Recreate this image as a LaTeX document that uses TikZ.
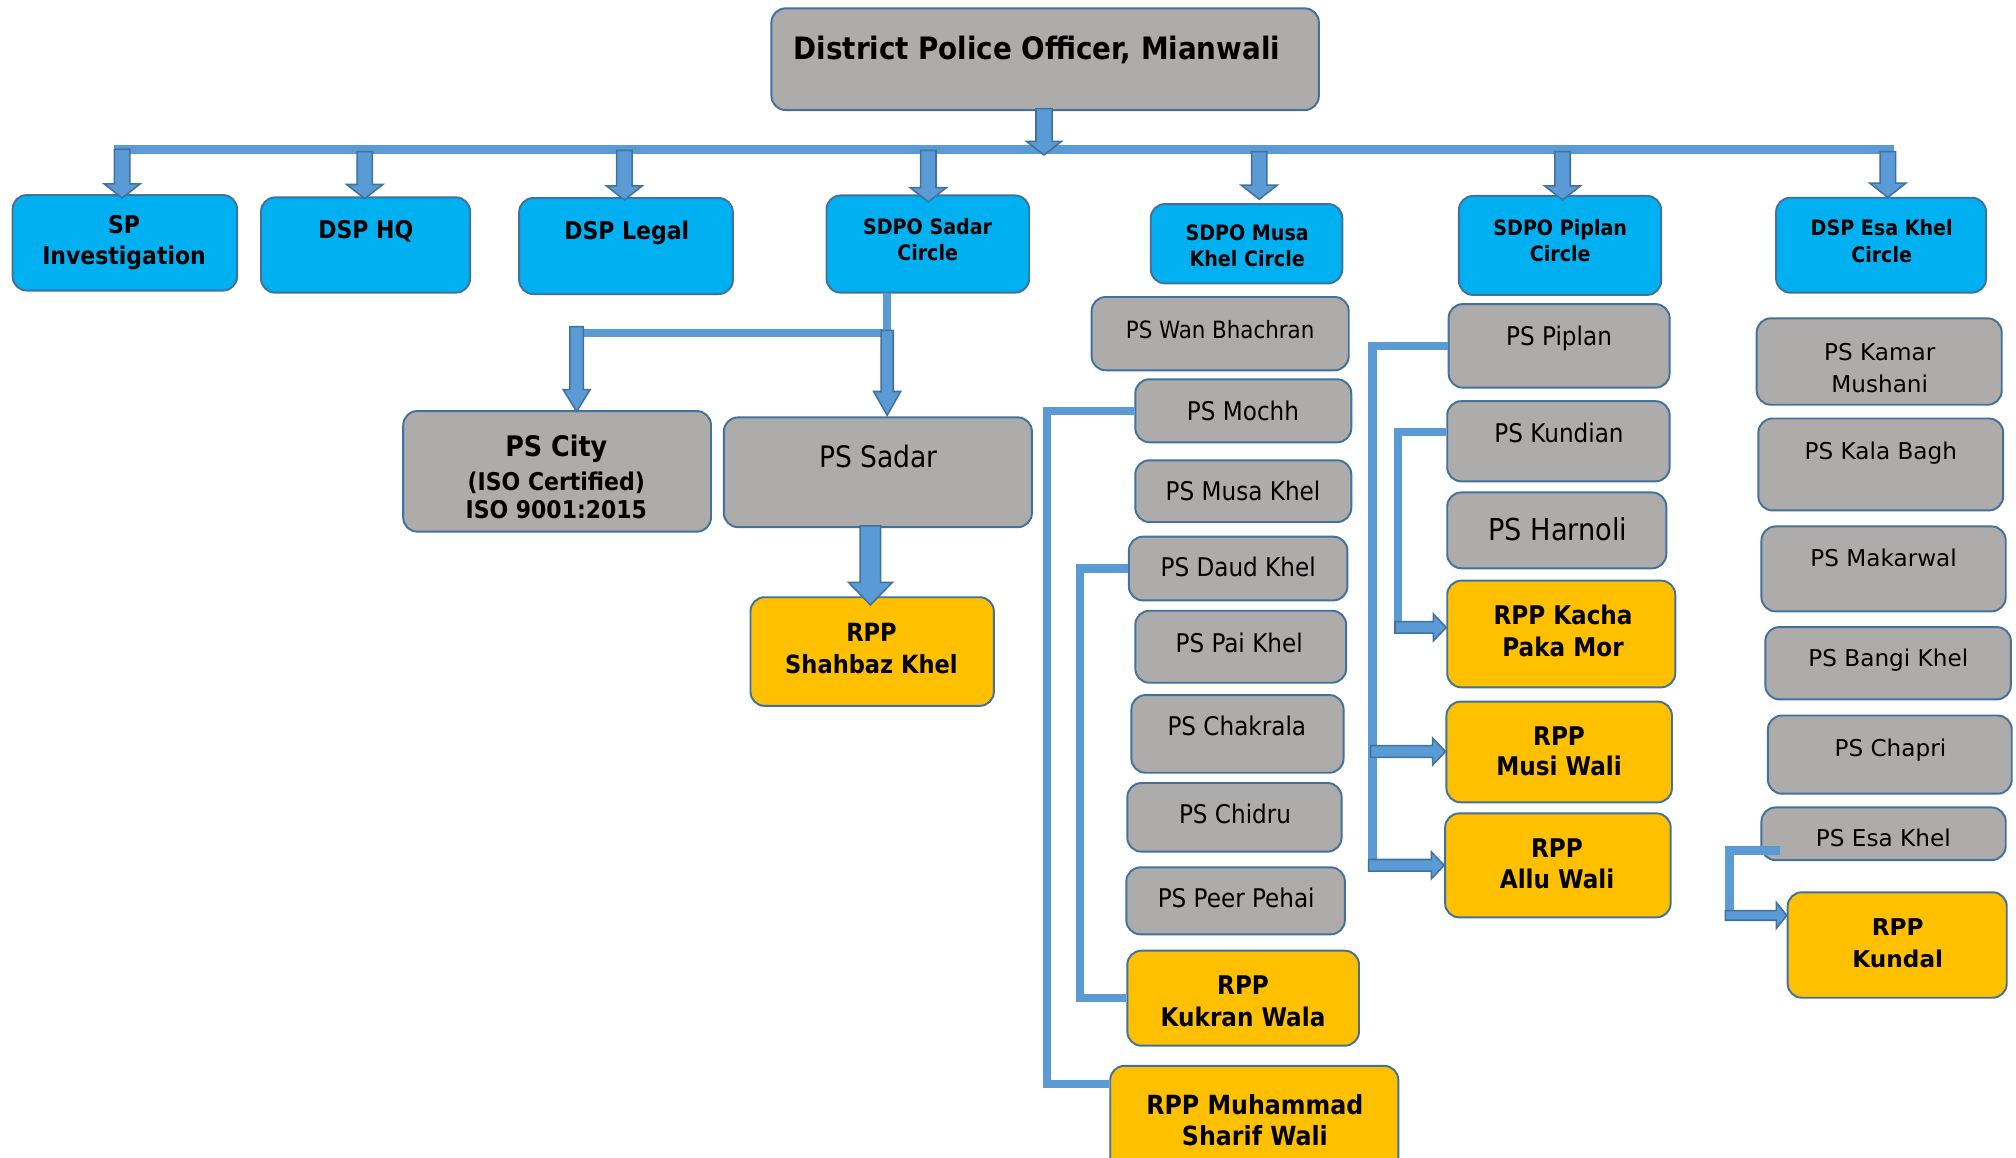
\documentclass[tikz,border=0pt]{standalone}
\usepackage{fontspec}
\newfontfamily\tah{DejaVu Sans Condensed}
\newfontfamily\ver{DejaVu Sans}
\usetikzlibrary{fit,calc}
\definecolor{cBlue}{HTML}{00B0F0}
\definecolor{cGray}{HTML}{AEABAB}
\definecolor{cYel}{HTML}{FFC000}
\definecolor{cBorder}{HTML}{41719C}
\definecolor{cLine}{HTML}{5B9BD5}
\newcommand\fsz[2]{\fontsize{#1pt}{#2pt}\selectfont}
\newcommand\mkbox[6]{\node[#1, fit={(#3,#4) (#5,#6)}] (#2) {};}
\newcommand\blockdown[5]{%
  \draw[blockarr] let \p1=(#1), \p2=(#2) in
   (\x1-#3pt/2,\y1) -- (\x1-#3pt/2,\y2+#5pt) -- (\x1-#4pt/2,\y2+#5pt) -- (\x1,\y2)
   -- (\x1+#4pt/2,\y2+#5pt) -- (\x1+#3pt/2,\y2+#5pt) -- (\x1+#3pt/2,\y1) -- cycle;}
\newcommand\blockright[5]{%
  \draw[blockarr] let \p1=(#1), \p2=(#2) in
   (\x1,\y1+#3pt/2) -- (\x2-#5pt,\y1+#3pt/2) -- (\x2-#5pt,\y1+#4pt/2) -- (\x2,\y1)
   -- (\x2-#5pt,\y1-#4pt/2) -- (\x2-#5pt,\y1-#3pt/2) -- (\x1,\y1-#3pt/2) -- cycle;}
\tikzset{
  bx/.style={draw=cBorder, line width=1.5pt, rounded corners=11pt, inner sep=0pt},
  bluebox/.style={bx, fill=cBlue},
  graybox/.style={bx, fill=cGray},
  yelbox/.style={bx, fill=cYel},
  conn/.style={draw=cLine, line width=6.5pt},
  blockarr/.style={fill=cLine, draw=cBorder, line width=1.2pt, line join=miter},
  lbl/.style={inner sep=0pt, align=center, text=black},
  one/.style={text height=#1pt, text depth=0pt},
  gtxt/.style={lbl, font=\tah\fsz{20}{24}},
  btxt/.style={lbl, font=\tah\bfseries\fsz{19}{24}},
  stxt/.style={lbl, font=\tah\bfseries\fsz{16.5}{20.5}},
  ytxt/.style={lbl, font=\tah\bfseries\fsz{20}{25}},
  vtxt/.style={lbl, font=\ver\fsz{18}{25}},
}
\begin{document}
\begin{tikzpicture}[x=1pt,y=-1pt]
\useasboundingbox (0,0) rectangle (1568,900);
\clip (0,0) rectangle (1568,900);
\fill[white] (0,0) rectangle (1568,900);

% ---------- boxes ----------
\mkbox{graybox}{dpo}{600}{6.5}{1025.8}{85.6}
\mkbox{bluebox}{sp}{9.8}{151.7}{184.4}{226}
\mkbox{bluebox}{hq}{203}{153.5}{365.6}{227.6}
\mkbox{bluebox}{legal}{403.8}{154}{570}{228.7}
\mkbox{bluebox}{sadar}{642.8}{152}{800.5}{227.6}
\mkbox{bluebox}{musa}{895}{158.7}{1044}{220.4}
\mkbox{bluebox}{piplan}{1134.7}{152.4}{1292}{229.4}
\mkbox{bluebox}{esa}{1381.4}{153.8}{1544.7}{227.6}

\mkbox{graybox}{city}{313.6}{319.7}{553}{413.5}
\mkbox{graybox}{pssadar}{563}{324.6}{802.6}{410}
\mkbox{yelbox}{shahbaz}{583.7}{464.5}{773}{549}

\mkbox{graybox}{wan}{849}{231}{1049}{288}
\mkbox{graybox}{mochh}{883}{295}{1051}{344}
\mkbox{graybox}{musakhel}{883}{358}{1051}{406}
\mkbox{graybox}{daud}{878}{417.4}{1048}{467}
\mkbox{graybox}{pai}{883}{475}{1047}{531}
\mkbox{graybox}{chak}{880}{540.6}{1045}{601}
\mkbox{graybox}{chidru}{876.8}{609}{1043.5}{662.4}
\mkbox{graybox}{peer}{876}{674.6}{1046}{726.7}
\mkbox{yelbox}{kukran}{876.8}{739.4}{1057}{813.3}
\mkbox{yelbox}{muh}{863.5}{829}{1087.6}{915}

\mkbox{graybox}{pspiplan}{1126.7}{236.5}{1298.6}{301.5}
\mkbox{graybox}{kundian}{1125.6}{312}{1298.6}{374.4}
\mkbox{graybox}{harnoli}{1125.6}{383}{1296}{442}
\mkbox{yelbox}{kacha}{1125.6}{451.6}{1303}{534.6}
\mkbox{yelbox}{musi}{1125}{545.7}{1300.4}{624}
\mkbox{yelbox}{allu}{1124}{632.6}{1299.4}{713.5}

\mkbox{graybox}{kamar}{1366.3}{247.6}{1556.9}{314.8}
\mkbox{graybox}{kala}{1367.6}{325.5}{1558}{397}
\mkbox{graybox}{makar}{1370}{409.4}{1560}{475.5}
\mkbox{graybox}{bangi}{1373}{487.7}{1564}{544}
\mkbox{graybox}{chapri}{1375}{556.5}{1564.7}{617.3}
\mkbox{graybox}{esakhel}{1370}{628}{1560}{669}
\mkbox{yelbox}{kundal}{1390.4}{694}{1560.8}{776}

% ---------- labels ----------
\node[lbl,one=17.5,font=\tah\bfseries\fsz{24}{29}] (tdpo) at (806.5,37.6) {District Police Officer, Mianwali};
\node[btxt] (tsp) at (96.5,188.5) {SP\\Investigation};
\node[btxt,one=13.9] (thq) at (284.5,178.4) {DSP HQ};
\node[btxt,one=13.9] (tlegal) at (487.5,179) {DSP Legal};
\node[stxt] (tsadar) at (721.5,186.3) {SDPO Sadar\\Circle};
\node[stxt] (tmusa) at (970,191.3) {SDPO Musa\\Khel Circle};
\node[stxt] (tpiplan) at (1213.5,187) {SDPO Piplan\\Circle};
\node[stxt] (tesa) at (1463.5,187.6) {DSP Esa Khel\\Circle};

\node[lbl,one=16,font=\tah\bfseries\fsz{22}{25}] (tcity1) at (432.7,347.4) {PS City};
\node[lbl,font=\tah\bfseries\fsz{19}{22}] (tcity2) at (432.7,385.3) {(ISO Certified)\\ISO 9001:2015};
\node[lbl,one=16.8,font=\tah\fsz{23}{27}] (tpssadar) at (683.2,355.2) {PS Sadar};
\node[ytxt,font=\tah\bfseries\fsz{19.5}{25}] (tshahbaz) at (677.8,504.3) {RPP\\Shahbaz Khel};

\node[gtxt,one=13.5,font=\tah\fsz{18.5}{22}] (twan) at (949,256.2) {PS Wan Bhachran};
\node[gtxt,one=14.6] (tmochh) at (966.8,319.4) {PS Mochh};
\node[gtxt,one=14.6] (tmusakhel) at (966.8,381.6) {PS Musa Khel};
\node[gtxt,one=14.6] (tdaud) at (963,440.7) {PS Daud Khel};
\node[gtxt,one=14.6] (tpai) at (963.8,499.9) {PS Pai Khel};
\node[gtxt,one=14.6] (tchak) at (962,564.7) {PS Chakrala};
\node[gtxt,one=14.6] (tchidru) at (960.6,633) {PS Chidru};
\node[gtxt,one=14.6] (tpeer) at (961.5,698.7) {PS Peer Pehai};
\node[ytxt] (tkukran) at (966.8,778.5) {RPP\\Kukran Wala};
\node[ytxt,font=\tah\bfseries\fsz{20.5}{24}] (tmuh) at (976,871) {RPP Muhammad\\Sharif Wali};

\node[gtxt,one=14.6] (tpspiplan) at (1212.6,261.3) {PS Piplan};
\node[gtxt,one=14.6] (tkundian) at (1212.6,336.5) {PS Kundian};
\node[gtxt,one=17.2,font=\tah\fsz{23.5}{27}] (tharnoli) at (1211.7,411.7) {PS Harnoli};
\node[ytxt] (tkacha) at (1215.7,491) {RPP Kacha\\Paka Mor};
\node[ytxt,font=\tah\bfseries\fsz{20}{23.5}] (tmusi) at (1212.6,584.5) {RPP\\Musi Wali};
\node[ytxt,font=\tah\bfseries\fsz{20}{24}] (tallu) at (1211,671.8) {RPP\\Allu Wali};

\node[vtxt] (tkamar) at (1462,286) {PS Kamar\\Mushani};
\node[vtxt,one=13.1] (tkala) at (1462.8,350.5) {PS Kala Bagh};
\node[vtxt,one=13.1] (tmakar) at (1465,434) {PS Makarwal};
\node[vtxt,one=13.1] (tbangi) at (1468.7,512) {PS Bangi Khel};
\node[vtxt,one=13.1] (tchapri) at (1470.3,581.5) {PS Chapri};
\node[vtxt,one=13.1] (tesakhel) at (1464.8,652) {PS Esa Khel};
\node[lbl,font=\ver\bfseries\fsz{18}{25}] (tkundal) at (1476,733.5) {RPP\\Kundal};

% ---------- top bus and arrows ----------
\coordinate (busL) at (89,116.5);
\coordinate (busR) at (1473,116.5);
\draw[cLine, line width=7pt] (busL) -- (busR);
\coordinate (m0) at (812,84.5);
\coordinate (m1) at (812,120.5);
\blockdown{m0}{m1}{12.5}{27}{10.5}

\coordinate (b1) at (95,116);     \coordinate (b1t) at (95,154);
\coordinate (b2) at (283.7,118);  \coordinate (b2t) at (283.7,154.5);
\coordinate (b3) at (485.6,117);  \coordinate (b3t) at (485.6,155.5);
\coordinate (b4) at (722,117);    \coordinate (b4t) at (722,157);
\coordinate (b5) at (979.4,118);  \coordinate (b5t) at (979.4,155);
\coordinate (b6) at (1215.3,118); \coordinate (b6t) at (1215.3,155.5);
\coordinate (b7) at (1468.3,118); \coordinate (b7t) at (1468.3,153.5);
\blockdown{b1}{b1t}{12}{28}{11}
\blockdown{b2}{b2t}{12}{28}{11}
\blockdown{b3}{b3t}{12}{28}{11}
\blockdown{b4}{b4t}{12}{28}{11}
\blockdown{b5}{b5t}{12}{28}{11}
\blockdown{b6}{b6t}{12}{28}{11}
\blockdown{b7}{b7t}{12}{28}{11}

% ---------- Sadar subtree ----------
\coordinate (s0) at (690,227.6);
\coordinate (s1) at (690,259);
\coordinate (s2) at (448.5,259);
\draw[cLine, line width=6pt] (s0) -- (s1) -- (s2);
\coordinate (c1) at (448.5,254);
\coordinate (c1t) at (448.5,320);
\blockdown{c1}{c1t}{10.5}{21}{17}
\coordinate (c2) at (690,257);
\coordinate (c2t) at (690,323);
\blockdown{c2}{c2t}{9.5}{21}{18.5}
\coordinate (c3) at (677,409);
\coordinate (c3t) at (677,470.5);
\blockdown{c3}{c3t}{16}{34}{17.5}

% ---------- Musa Khel connectors ----------
\coordinate (mj) at (814.5,843);
\draw[conn] (mochh.west) -| (mj) -- (mj -| muh.west);
\coordinate (kx) at (840,600);
\draw[conn] (daud.west) -| (kx) |- (kukran.west);

% ---------- Piplan connectors ----------
\coordinate (px) at (1067.5,673);
\draw[conn] (pspiplan.west) -| (px);
\coordinate (kx2) at (1087.5,488);
\draw[conn] ([yshift=7pt]kundian.west) -| (kx2);
\coordinate (pa3) at (1085,488);
\blockright{pa3}{kacha.west}{9}{21}{10}
\coordinate (pa1) at (1066,584.5);
\blockright{pa1}{musi.west}{9}{21}{10}
\coordinate (pa2) at (1064.5,673);
\blockright{pa2}{allu.west}{9}{21}{10}

% ---------- Esa Khel connector ----------
\coordinate (e1) at (1384.5,661.5);
\coordinate (e2) at (1345.5,712);
\draw[conn, line width=7pt] (e1) -| (e2);
\coordinate (ea) at (1342,712);
\blockright{ea}{kundal.west}{7.5}{20}{8}
\end{tikzpicture}
\end{document}
